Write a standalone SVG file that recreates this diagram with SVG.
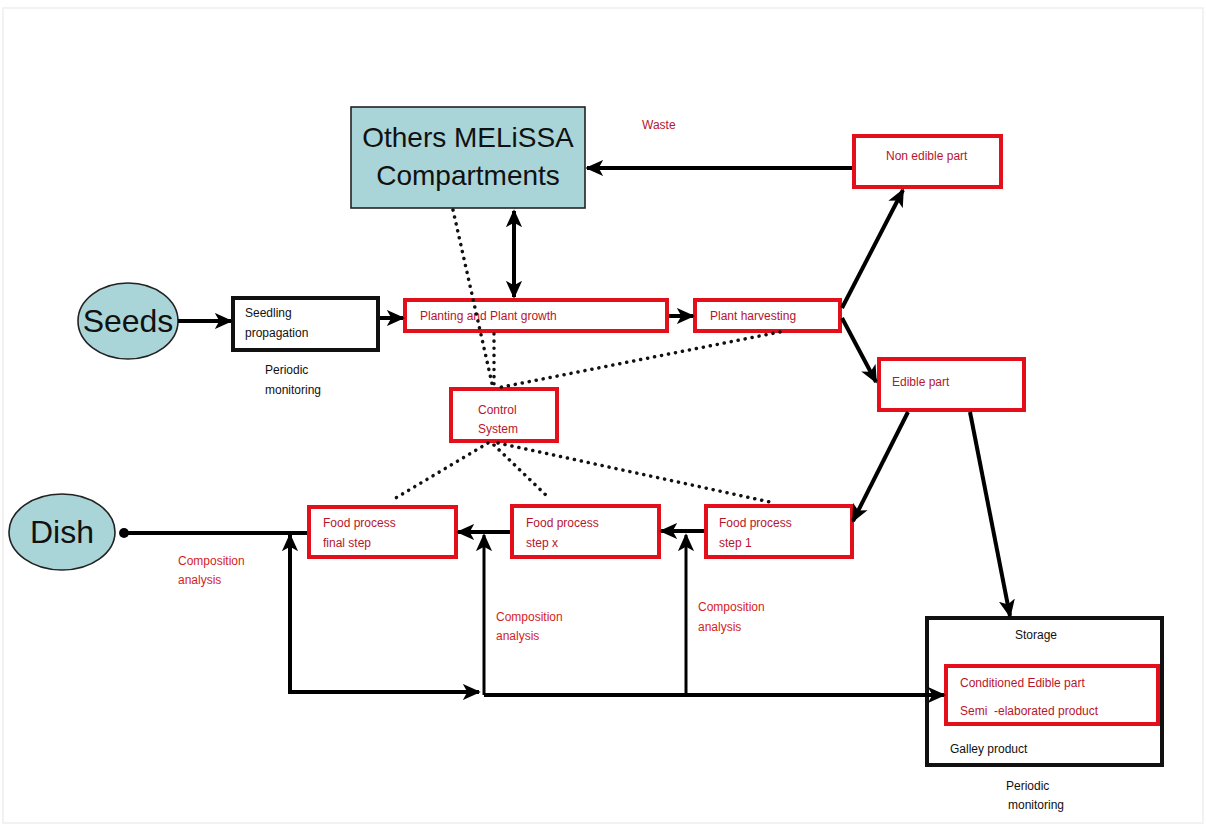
<svg xmlns="http://www.w3.org/2000/svg" width="1206" height="827" viewBox="0 0 1206 827">
<style>
.bg{fill:#ffffff}
.redbox{fill:#ffffff;stroke:#e3101c;stroke-width:4}
.blkbox{fill:#ffffff;stroke:#111;stroke-width:4}
.teal{fill:#a9d5d8;stroke:#222;stroke-width:1.6}
.rt{font-family:"Liberation Sans",Arial,sans-serif;font-size:12px;fill:#b8142c}
.rt2{font-family:"Liberation Sans",Arial,sans-serif;font-size:12px;fill:#d41e24}
.bt{font-family:"Liberation Sans",Arial,sans-serif;font-size:12px;fill:#111}
.big{font-family:"Liberation Sans",Arial,sans-serif;font-size:28px;fill:#111}
.huge{font-family:"Liberation Sans",Arial,sans-serif;font-size:32px;fill:#111}
.ln{fill:none;stroke:#000;stroke-width:4}
.ln3{fill:none;stroke:#000;stroke-width:3}
.dot{fill:none;stroke:#111;stroke-width:3.5;stroke-dasharray:0.1 7;stroke-linecap:round}
</style>
<defs>
<marker id="arr" viewBox="0 0 10 10" refX="9" refY="5" markerWidth="18" markerHeight="18" markerUnits="userSpaceOnUse" orient="auto-start-reverse">
<path d="M0,0.5 L10,5 L0,9.5 L2.5,5 z" fill="#000"/>
</marker>
<marker id="dotm" viewBox="0 0 10 10" refX="5" refY="5" markerWidth="11" markerHeight="11" markerUnits="userSpaceOnUse">
<circle cx="5" cy="5" r="4.5" fill="#000"/>
</marker>
</defs>
<rect class="bg" x="0" y="0" width="1206" height="827"/>
<rect x="3" y="8" width="1200" height="815" fill="none" stroke="#eeeeee" stroke-width="1.5"/>

<g id="melissa">
<rect class="teal" x="351" y="107" width="234" height="101"/>
<text class="big" x="468" y="147" text-anchor="middle">Others MELiSSA</text>
<text class="big" x="468" y="185" text-anchor="middle">Compartments</text>
</g>
<g id="waste"><text class="rt" x="642" y="129" font-size="11">Waste</text></g>

<g id="seeds">
<ellipse class="teal" cx="128" cy="321" rx="50" ry="38"/>
<text class="huge" x="128" y="332" text-anchor="middle">Seeds</text>
</g>

<g id="seedling">
<rect class="blkbox" x="233" y="298" width="145" height="52"/>
<text class="bt" x="245" y="317">Seedling</text>
<text class="bt" x="245" y="337">propagation</text>
</g>
<g id="monitor1">
<text class="bt" x="265" y="374">Periodic</text>
<text class="bt" x="265" y="394">monitoring</text>
</g>

<g id="planting">
<rect class="redbox" x="405" y="300" width="262" height="31"/>
<text class="rt" x="420" y="320">Planting and Plant growth</text>
</g>

<g id="harvesting">
<rect class="redbox" x="695" y="300" width="145" height="31"/>
<text class="rt" x="710" y="320">Plant harvesting</text>
</g>

<g id="nonedible">
<rect class="redbox" x="854" y="136" width="147" height="51"/>
<text class="rt" x="886" y="160">Non edible part</text>
</g>

<g id="edible">
<rect class="redbox" x="879" y="359" width="145" height="51"/>
<text class="rt" x="892" y="386">Edible part</text>
</g>

<g id="control">
<rect class="redbox" x="451" y="389" width="106" height="52"/>
<text class="rt" x="478" y="414">Control</text>
<text class="rt" x="478" y="433">System</text>
</g>

<g id="dish">
<ellipse class="teal" cx="62" cy="532" rx="53" ry="38"/>
<text class="huge" x="62" y="543" text-anchor="middle">Dish</text>
</g>

<g id="finalstep">
<rect class="redbox" x="309" y="507" width="147" height="50"/>
<text class="rt" x="323" y="527">Food process</text>
<text class="rt" x="323" y="547">final step</text>
</g>

<g id="stepx">
<rect class="redbox" x="512" y="506" width="147" height="51"/>
<text class="rt" x="526" y="527">Food process</text>
<text class="rt" x="526" y="547">step x</text>
</g>

<g id="step1">
<rect class="redbox" x="706" y="506" width="146" height="51"/>
<text class="rt" x="719" y="527">Food process</text>
<text class="rt" x="719" y="547">step 1</text>
</g>

<g id="comp1">
<text class="rt2" x="178" y="565">Composition</text>
<text class="rt2" x="178" y="584">analysis</text>
</g>
<g id="comp2">
<text class="rt2" x="496" y="621">Composition</text>
<text class="rt2" x="496" y="640">analysis</text>
</g>
<g id="comp3">
<text class="rt2" x="698" y="611">Composition</text>
<text class="rt2" x="698" y="631">analysis</text>
</g>

<g id="storage">
<rect x="927" y="618" width="235" height="147" fill="none" stroke="#111" stroke-width="4"/>
<text class="bt" x="1015" y="639">Storage</text>
<rect class="redbox" x="946" y="666" width="212" height="58"/>
<text class="rt" x="960" y="687">Conditioned Edible part</text>
<text class="rt" x="960" y="715" style="white-space:pre">Semi  -elaborated product</text>
<text class="bt" x="950" y="753">Galley product</text>
</g>
<g id="monitor2">
<text class="bt" x="1006" y="790">Periodic</text>
<text class="bt" x="1008" y="809">monitoring</text>
</g>

<g id="connectors">
<line class="ln" x1="178" y1="321" x2="231" y2="321" marker-end="url(#arr)"/>
<line class="ln" x1="380" y1="318" x2="403" y2="318" marker-end="url(#arr)"/>
<line class="ln" x1="669" y1="316" x2="693" y2="316" marker-end="url(#arr)"/>
<line class="ln" x1="514" y1="211" x2="514" y2="297" marker-start="url(#arr)" marker-end="url(#arr)"/>
<line class="ln" x1="852" y1="168" x2="587" y2="168" marker-end="url(#arr)"/>
<line class="ln" x1="842" y1="308" x2="903" y2="190" marker-end="url(#arr)"/>
<line class="ln" x1="842" y1="318" x2="876" y2="382" marker-end="url(#arr)"/>
<line class="ln" x1="908" y1="412" x2="853" y2="521" marker-end="url(#arr)"/>
<line class="ln" x1="970" y1="412" x2="1010" y2="616" marker-end="url(#arr)"/>
<line class="ln" x1="704" y1="531" x2="661" y2="531" marker-end="url(#arr)"/>
<line class="ln" x1="510" y1="532" x2="458" y2="532" marker-end="url(#arr)"/>
<line class="ln" x1="307" y1="533" x2="124" y2="533" marker-end="url(#dotm)"/>
<polyline class="ln" points="290,534 290,692 479,692" marker-end="url(#arr)"/>
<line class="ln3" x1="290" y1="694" x2="290" y2="535" marker-end="url(#arr)"/>
<line class="ln3" x1="484" y1="695" x2="484" y2="535" marker-end="url(#arr)"/>
<line class="ln3" x1="686" y1="695" x2="686" y2="535" marker-end="url(#arr)"/>
<line class="ln" x1="484" y1="695" x2="944" y2="695" marker-end="url(#arr)"/>
<line class="dot" x1="453" y1="210" x2="493" y2="388"/>
<line class="dot" x1="494" y1="334" x2="494" y2="388"/>
<line class="dot" x1="780" y1="332" x2="497" y2="388"/>
<line class="dot" x1="488" y1="443" x2="394" y2="499"/>
<line class="dot" x1="494" y1="445" x2="550" y2="499"/>
<line class="dot" x1="498" y1="443" x2="770" y2="502"/>
</g>
</svg>
